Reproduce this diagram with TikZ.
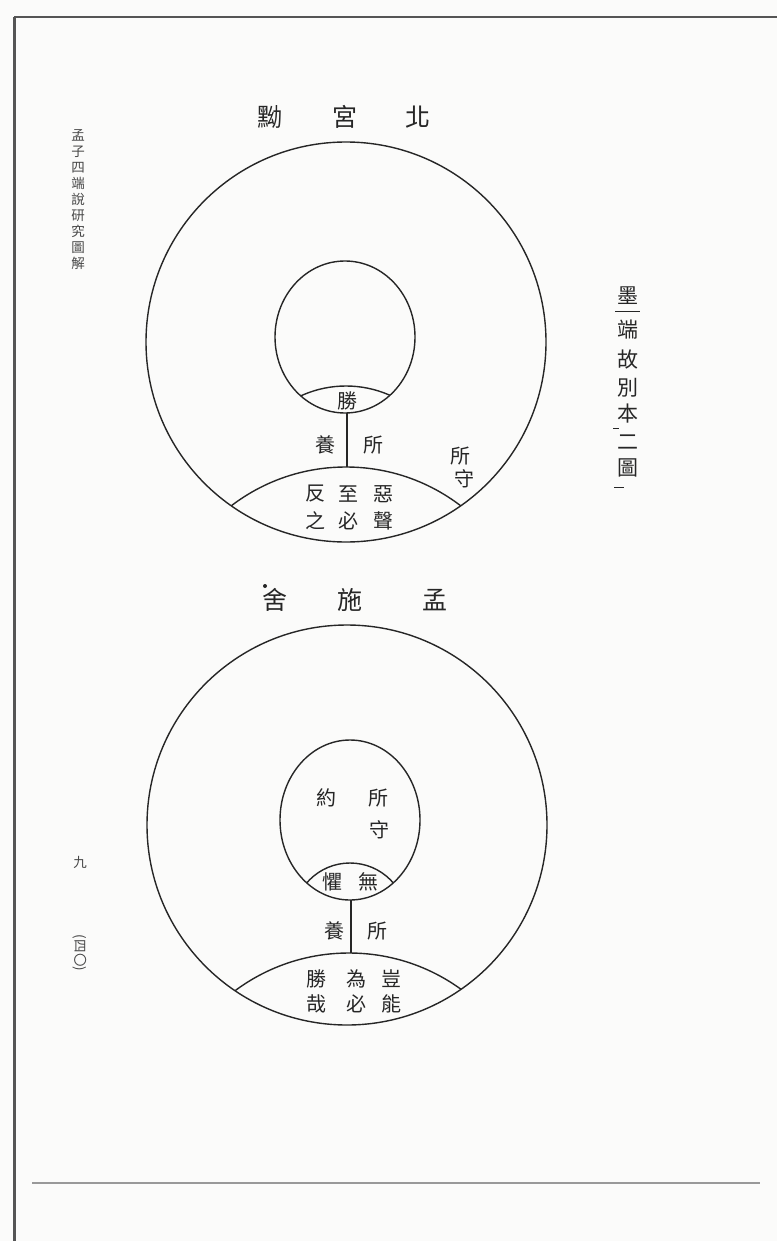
\documentclass[tikz,border=0pt]{standalone}
\usepackage{fontspec}
\newfontfamily\cjk{Noto Sans CJK TC}
\definecolor{ink}{HTML}{262626}
\definecolor{paper}{HTML}{FBFBFA}
\definecolor{frame}{HTML}{555555}
\begin{document}
\begin{tikzpicture}[x=1pt,y=-1pt,
  ring/.style={draw=ink, line width=1.4pt},
  lbl/.style={font=\cjk\fontsize{20}{20}\selectfont, text=ink, inner sep=0pt},
  ttl/.style={font=\cjk\fontsize{25}{25}\selectfont, text=ink, inner sep=0pt},
  side/.style={font=\cjk\fontsize{13.5}{16}\selectfont, text=ink!85, inner sep=0pt, align=center},
  rside/.style={font=\cjk\fontsize{21}{21}\selectfont, text=ink, inner sep=0pt}]
\useasboundingbox (0,0) rectangle (777,1241);
\fill[paper] (0,0) rectangle (777,1241);
% page frame
\draw[frame, line width=3pt] (14,17) -- (14,1241);
\draw[frame, line width=2pt] (14,17) -- (777,17);
\draw[frame!60, line width=1.6pt] (32,1183) -- (760,1183);
% margin texts
\node[side] (hdr) at (78,200) {孟\\子\\四\\端\\說\\研\\究\\圖\\解};
\node[side] (pgn) at (80,862) {九};
\node[side, rotate=-90] (pgb) at (80,953) {(四〇)};
\node[rside] (r1) at (628,296) {墨};
\node[rside] (r2) at (628,330) {端};
\node[rside] (r3) at (628,360) {故};
\node[rside] (r4) at (628,388) {別};
\node[rside] (r5) at (628,414) {本};
\node[rside] (r6) at (628,442) {二};
\node[rside] (r7) at (628,468) {圖};
\draw[ink, line width=1pt] (615,311) -- (640,311);
\draw[ink, line width=0.8pt] (613,428) -- (619,428);
\draw[ink, line width=0.8pt] (614,487) -- (624,487);

% ===== top diagram =====
\node[ttl] (t1) at (270,117) {黝};
\node[ttl] (t2) at (345,117) {宮};
\node[ttl] (t3) at (418,117) {北};
\coordinate (Oa) at (346,342);
\coordinate (Ia) at (345,337);
\draw[ring] (Oa) circle[radius=200pt];
\draw[ring] (Ia) ellipse[x radius=70pt, y radius=76pt];
\begin{scope}
  \clip (Ia) ellipse[x radius=70pt, y radius=76pt];
  \draw[ring] (346,494) circle[radius=108pt];
\end{scope}
\begin{scope}
  \clip (Oa) circle[radius=200pt];
  \draw[ring] (346,656) circle[radius=189pt];
\end{scope}
\coordinate (a1) at (347,413);
\coordinate (a2) at (347,467);
\draw[ring] (a1) -- (a2);
\node[lbl] (sheng) at (347,401) {勝};
\node[lbl] (yangA) at (325,445) {養};
\node[lbl] (suoA) at (373,445) {所};
\node[lbl] (suoA2) at (460,456) {所};
\node[lbl] (shouA) at (464,479) {守};
\node[lbl] (fan) at (315,494) {反};
\node[lbl] (zhi) at (348,494) {至};
\node[lbl] (e) at (383,494) {惡};
\node[lbl] (zhi2) at (315,521) {之};
\node[lbl] (bi) at (348,521) {必};
\node[lbl] (sheng2) at (383,521) {聲};

% ===== bottom diagram =====
\fill[ink] (265,586) circle[radius=2pt];
\node[ttl] (b1) at (275,600) {舍};
\node[ttl] (b2) at (350,600) {施};
\node[ttl] (b3) at (435,600) {孟};
\coordinate (Ob) at (347,825);
\coordinate (Ib) at (350,820);
\draw[ring] (Ob) circle[radius=200pt];
\draw[ring] (Ib) ellipse[x radius=70pt, y radius=80pt];
\begin{scope}
  \clip (Ib) ellipse[x radius=70pt, y radius=80pt];
  \draw[ring] (350,920) circle[radius=57pt];
\end{scope}
\begin{scope}
  \clip (Ob) circle[radius=200pt];
  \draw[ring] (349,1144) circle[radius=191pt];
\end{scope}
\coordinate (c1) at (351,900);
\coordinate (c2) at (351,953);
\draw[ring] (c1) -- (c2);
\node[lbl] (yue) at (326,798) {約};
\node[lbl] (suoB) at (378,798) {所};
\node[lbl] (shouB) at (379,830) {守};
\node[lbl] (ju) at (332,882) {懼};
\node[lbl] (wu) at (368,882) {無};
\node[lbl] (yangB) at (334,931) {養};
\node[lbl] (suoB2) at (377,931) {所};
\node[lbl] (shengB) at (316,979) {勝};
\node[lbl] (wei) at (356,979) {為};
\node[lbl] (qi) at (391,979) {豈};
\node[lbl] (zai) at (316,1004) {哉};
\node[lbl] (biB) at (356,1004) {必};
\node[lbl] (neng) at (391,1004) {能};
\end{tikzpicture}
\end{document}
